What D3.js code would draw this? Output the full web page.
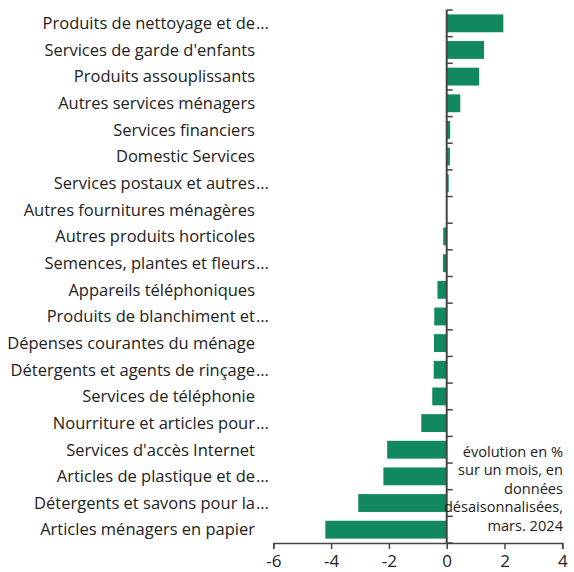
<!DOCTYPE html>
<html>
<head>
<meta charset="utf-8">
<script src="https://cdn.jsdelivr.net/npm/d3@7"></script>
<style>
  body { margin: 0; background: #fff; }
  text { font-family: "Open Sans", sans-serif; fill: #222; }
</style>
</head>
<body>
<svg id="svg_main" width="574" height="572"></svg>
<script>
var categories = ["Produits de nettoyage et de", "Services de garde d'enfants", "Produits assouplissants",
  "Autres services ménagers", "Services financiers", "Domestic Services", "Services postaux et autres",
  "Autres fournitures ménagères", "Autres produits horticoles", "Semences, plantes et fleurs",
  "Appareils téléphoniques", "Produits de blanchiment et", "Dépenses courantes du ménage",
  "Détergents et agents de rinçage", "Services de téléphonie", "Nourriture et articles pour",
  "Services d'accès Internet", "Articles de plastique et de", "Détergents et savons pour la",
  "Articles ménagers en papier"]
var truncated = [true, false, false, false, false, false, true, false, false, true,
  false, true, false, true, false, true, false, true, true, false]
var values = [1.96, 1.29, 1.12, 0.47, 0.12, 0.11, 0.07, 0, -0.12, -0.13,
  -0.32, -0.43, -0.44, -0.45, -0.5, -0.88, -2.06, -2.19, -3.06, -4.2]
var xTicks = [-6, -4, -2, 0, 2, 4]
var note = ["évolution en %", "sur un mois, en", "données", "désaisonnalisées,", "mars. 2024"]

var svg = d3.select("#svg_main")
var x = d3.scaleLinear().domain([-6, 4]).range([273.3, 562.3])
var y = d3.scaleBand().domain(categories).range([10, 543]).paddingInner(0.33).paddingOuter(0.165)

// bars
svg.append("g")
  .selectAll("rect")
  .data(values)
  .enter()
  .append("rect")
    .attr("x", function(d){ return x(Math.min(0, d)) })
    .attr("y", function(d, i){ return y(categories[i]) })
    .attr("width", function(d){ return Math.abs(x(d) - x(0)) })
    .attr("height", y.bandwidth())
    .attr("fill", "#11885e")

// category labels
var lab = svg.append("g")
categories.forEach(function(c, i){
  var cy = y(c) + y.bandwidth() / 2
  lab.append("text")
    .attr("x", 255).attr("y", cy).attr("dy", "0.35em")
    .attr("text-anchor", "end").style("font-size", "16.5px")
    .text(c)
  if (truncated[i]) {
    lab.append("text")
      .attr("x", 256).attr("y", cy).attr("dy", "0.35em")
      .style("font-size", "16.5px")
      .text("…")
  }
})

// zero axis with ticks at band edges
var step = y.step()
var edges = d3.range(categories.length + 1).map(function(i){ return 10 + i * step })
svg.append("line")
  .attr("x1", x(0)).attr("x2", x(0)).attr("y1", 10).attr("y2", 543)
  .attr("stroke", "#444").attr("stroke-width", 2)
svg.append("g").selectAll("line").data(edges).enter().append("line")
  .attr("x1", x(0)).attr("x2", x(0) + 6)
  .attr("y1", function(d){ return d }).attr("y2", function(d){ return d })
  .attr("stroke", "#444").attr("stroke-width", 1.5)

// bottom axis
var xAxis = svg.append("g")
  .attr("transform", "translate(0,543)")
  .call(d3.axisBottom(x).tickValues(xTicks).tickSize(6).tickPadding(6).tickFormat(function(d){ return String(d) }))
xAxis.select(".domain").attr("stroke", "#444").attr("stroke-width", 1.5)
xAxis.selectAll(".tick line").attr("stroke", "#444").attr("stroke-width", 1.5)
xAxis.selectAll(".tick text").style("font-size", "17px").style("font-family", "Open Sans, sans-serif").attr("fill", "#222")

// note
svg.append("g").selectAll("text").data(note).enter().append("text")
  .attr("x", 563).attr("y", function(d, i){ return 457 + i * 18.4 })
  .attr("text-anchor", "end").style("font-size", "14.6px")
  .text(function(d){ return d })
</script>
</body>
</html>
